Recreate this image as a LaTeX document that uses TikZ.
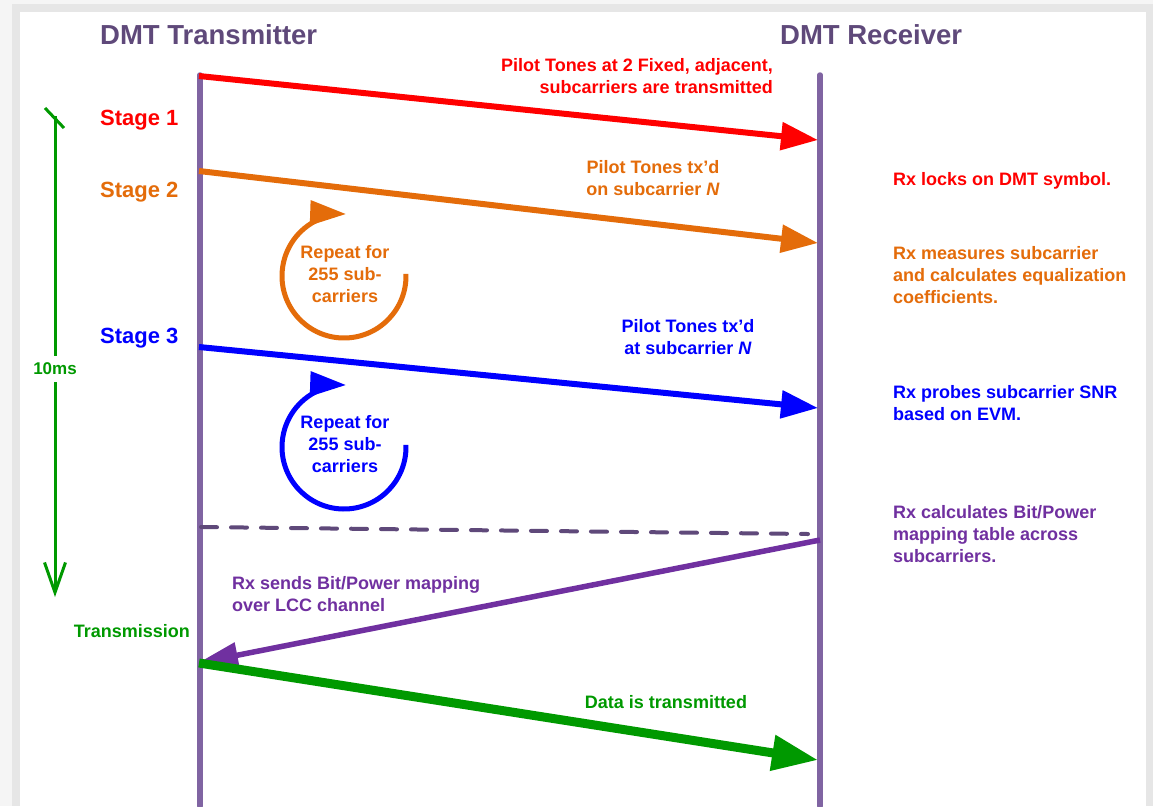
\documentclass[tikz,border=0pt]{standalone}
\usepackage{fontspec}
\setmainfont{Liberation Sans}
\usetikzlibrary{arrows.meta, bending, positioning}
\definecolor{lifecol}{HTML}{8064A2}
\definecolor{titlecol}{HTML}{5F497A}
\definecolor{orangecol}{HTML}{E46C0A}
\definecolor{greencol}{HTML}{009900}
\definecolor{mapcol}{HTML}{7030A0}
\definecolor{framecol}{HTML}{E6E6E6}
\tikzset{
x=1pt, y=-1pt, % one unit is one pixel, y grows downwards
lifeline/.style={line width=5.5pt, draw=lifecol, line cap=round}, % the two time lines
msg/.style={line width=6pt, -{Triangle[length=37pt,width=27pt]}}, % messages between Tx and Rx
repeatloop/.style={line width=5pt, -{Triangle[length=36pt,width=24pt,quick]}}, % the round "repeat" arrows
txt/.style={font=\fontsize{18}{22}\selectfont\bfseries, inner sep=0pt}, % plain labels
stagelbl/.style={font=\fontsize{22}{26}\selectfont\bfseries, inner sep=0pt, anchor=west}, % Stage 1..3
headlbl/.style={font=\fontsize{27.5}{32}\selectfont\bfseries, inner sep=0pt, anchor=west, text=titlecol}, % column titles
}

\begin{document}
\begin{tikzpicture}
    % frame
    \fill[black!4] (0,0) rectangle (1153,806);
    \fill[framecol] (12,4) rectangle (1153,806);
    \fill[white] (20,12) rectangle (1146,806);
    \useasboundingbox (0,0) rectangle (1153,806);

    \node[headlbl] (txhead) at (100,35) {DMT Transmitter};
    \node[headlbl] (rxhead) at (780,35) {DMT Receiver};

    \coordinate (tx top) at (200,75);
    \coordinate (tx bot) at (200,806);
    \coordinate (rx top) at (820,75);
    \coordinate (rx bot) at (820,806);
    \draw[lifeline] (tx top) -- (tx bot);
    \draw[lifeline] (rx top) -- (rx bot);

    % stage 1
    \coordinate (tx1) at (199,76);
    \coordinate (rx1) at (818,140);
    \draw[msg, red] (tx1) -- (rx1);
    \node[txt, red, align=right, anchor=east] (msg1) at (773,76.5) {Pilot Tones at 2 Fixed, adjacent,\\subcarriers are transmitted};
    \node[stagelbl, red] (stage1) at (100,120) {Stage 1};
    \node[txt, red, anchor=west] (rxnote1) at (893,181) {Rx locks on DMT symbol.};

    % stage 2
    \coordinate (tx2) at (199,171);
    \coordinate (rx2) at (818,243);
    \draw[msg, orangecol] (tx2) -- (rx2);
    \node[txt, orangecol, align=center] (msg2) at (653,178) {Pilot Tones tx'd\\on subcarrier \textit{N}};
    \node[stagelbl, orangecol] (stage2) at (100,192) {Stage 2};
    \node[txt, orangecol, align=center] (rep2) at (345,274) {Repeat for\\255 sub-\\carriers};
    \draw[repeatloop, orangecol] (344,276) ++(-2:62) arc[start angle=-2, end angle=272, radius=62];
    \node[txt, orangecol, align=left, anchor=west] (rxnote2) at (893,275) {Rx measures subcarrier\\and calculates equalization\\coefficients.};

    % stage 3
    \coordinate (tx3) at (199,347);
    \coordinate (rx3) at (818,408);
    \draw[msg, blue] (tx3) -- (rx3);
    \node[txt, blue, align=center] (msg3) at (688,337) {Pilot Tones tx'd\\at subcarrier \textit{N}};
    \node[stagelbl, blue] (stage3) at (100,338) {Stage 3};
    \node[txt, blue, align=center] (rep3) at (345,444) {Repeat for\\255 sub-\\carriers};
    \draw[repeatloop, blue] (344,447) ++(-2:62) arc[start angle=-2, end angle=272, radius=62];
    \node[txt, blue, align=left, anchor=west] (rxnote3) at (893,403) {Rx probes subcarrier SNR\\based on EVM.};

    % mapping table
    \coordinate (txdash) at (201,527);
    \coordinate (rxdash) at (808,534);
    \draw[line width=4pt, titlecol, dash pattern=on 16pt off 14pt, line cap=round] (txdash) -- (rxdash);
    \node[txt, mapcol, align=left, anchor=west] (rxnote4) at (893,534) {Rx calculates Bit/Power\\mapping table across\\subcarriers.};
    \coordinate (rxmap) at (820,540);
    \coordinate (txmap) at (198,663);
    \draw[line width=5.5pt, mapcol, -{Triangle[length=40pt,width=25pt]}] (rxmap) -- (txmap);
    \node[txt, mapcol, align=left, anchor=west] (msg4) at (232,594) {Rx sends Bit/Power mapping\\over LCC channel};

    % data
    \node[txt, greencol, anchor=east] (trans) at (190,631) {Transmission};
    \coordinate (txdata) at (199,663);
    \coordinate (rxdata) at (818,760);
    \draw[line width=9pt, greencol, -{Triangle[length=46pt,width=34pt]}] (txdata) -- (rxdata);
    \node[txt, greencol] (msg5) at (666,702) {Data is transmitted};

    % 10ms span
    \node[font=\fontsize{17}{20}\selectfont\bfseries, text=greencol, inner sep=0pt, minimum height=26pt] (tenms) at (55,369) {10ms};
    \coordinate (span top) at (55,116);
    \coordinate (span bot) at (55,597);
    \coordinate (barb a) at (45,108);
    \coordinate (barb b) at (64,128);
    \draw[line width=3pt, greencol] (tenms.north) -- (span top);
    \draw[line width=3pt, greencol] (barb a) -- (barb b);
    \draw[line width=3pt, greencol, -{Straight Barb[length=30pt,width=21pt]}] (tenms.south) -- (span bot);
\end{tikzpicture}
\end{document}
